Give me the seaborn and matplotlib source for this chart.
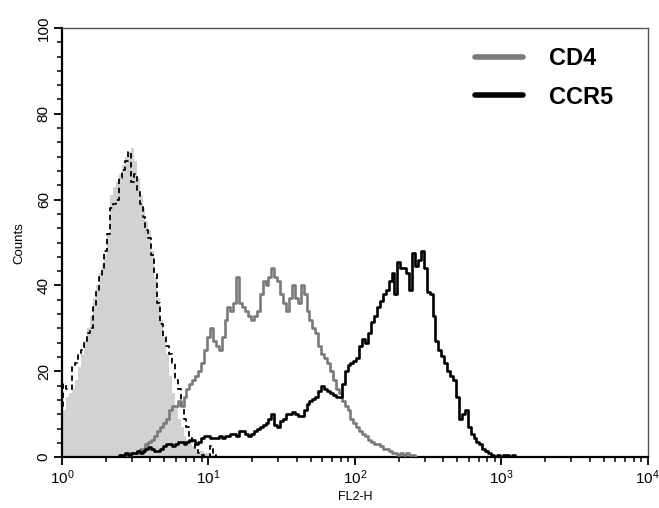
import numpy as np
import matplotlib
matplotlib.use("Agg")
import matplotlib.pyplot as plt
from matplotlib.ticker import LogLocator, AutoMinorLocator, MultipleLocator, NullFormatter
import seaborn as sns

sns.set_style("ticks", {'text.color': 'black', 'axes.labelcolor': 'black',
                        'xtick.color': 'black', 'ytick.color': 'black'})
plt.rcParams['font.family'] = ['Liberation Sans', 'DejaVu Sans']

# log10 channel step used for all histograms
step = 0.02

# isotype control (filled grey), starts at log10 = 0.00
iso_start = 0.00
iso_counts = [10, 11, 14, 15, 16, 18, 21, 24, 27, 30, 33, 37, 40, 43, 45, 47,
              52, 61, 63, 64, 66, 68, 70, 71, 72, 69, 65, 61, 58, 55, 53, 48,
              42, 37, 32, 28, 24, 19, 15, 12, 9, 7, 5, 4, 3, 2.5, 2, 1.5, 1.5,
              1, 1, 0.5, 0.5, 0]

# second control (dashed), starts at log10 = 0.00
ctl_start = 0.00
ctl_counts = [12, 17, 16, 16, 21, 22, 24, 25, 27, 29, 30, 35, 39, 42, 44, 48,
              52, 58, 59, 60, 65, 67, 69, 71, 64, 66, 62, 59, 56, 53, 51, 47,
              43, 36, 31, 28, 26, 24, 22, 18, 16, 12, 9, 7, 5, 3, 2, 1, 0.5, 0,
              0, 2.5, 0.5, 0] + [0] * 74

# CD4 (grey line), starts at log10 = 0.44
cd4_start = 0.44
cd4_counts = [0, 0.5, 1, 1, 1.5, 2, 2, 3, 3.5, 4, 5, 6, 7, 8, 9, 11, 12, 12,
              13, 12, 14, 16, 17, 18, 19, 20, 22, 25, 28, 30, 27, 26, 25, 28,
              32, 35, 34, 36, 42, 36, 35, 34, 33, 32, 33, 34, 38, 41, 40, 42,
              44, 42, 41, 38, 36, 34, 37, 40, 37, 36, 40, 38, 34, 32, 30, 29,
              26, 24, 23, 22, 20, 18, 16, 15, 13, 12, 11, 9, 8, 7, 6, 5.5, 5,
              4, 3.5, 3, 3, 2.5, 2, 2, 1.5, 1, 1, 0.5, 1, 0.5, 1, 0.5, 0.5, 0]

# CCR5 (black line), starts at log10 = 0.38
ccr5_start = 0.38
ccr5_counts = [0, 0.5, 0.5, 1, 0.5, 1, 1, 1.5, 1, 1.5, 2, 2.3, 2, 1.5, 1.5, 2,
               2.5, 3, 3, 2.5, 3, 3.5, 3.5, 3, 3.5, 4, 4, 3, 3.5, 4.5, 5, 5,
               4.5, 4.5, 4.5, 5, 4.5, 5, 5, 5.5, 5.5, 5, 6, 6, 5.5, 5, 5.5, 6,
               6.5, 7, 7.5, 8, 9, 10, 7.5, 7, 8.5, 9, 10, 10, 10.5, 10, 9.5,
               9.5, 11, 12.5, 13, 13.5, 14, 15.5, 16.5, 16, 15.5, 15, 14.5, 14,
               14, 17, 20, 21.5, 22, 22.5, 23, 26, 27.5, 26.5, 29, 31.5, 33, 35,
               36.5, 38, 39, 41, 43, 38, 45.5, 44, 44, 43, 39, 47.5, 44.5, 46,
               48, 44, 38.5, 38, 33, 27, 25, 23.5, 22, 20, 19, 18, 14, 9, 10,
               11, 7, 5.5, 4.5, 3.5, 3, 2, 1.5, 1, 0.5, 0, 0.5, 0, 0.5, 0.5, 0,
               0.5, 0]


def channels(start, counts):
    return 10 ** (start + step * np.arange(len(counts)))


fig, ax = plt.subplots(figsize=(6.59, 5.08), dpi=100)
fig.subplots_adjust(left=0.094, right=0.983, bottom=0.100, top=0.945)

x_iso = channels(iso_start, iso_counts)
ax.fill_between(x_iso, iso_counts, step='mid', color='#d2d2d2', lw=0, zorder=1)

sns.lineplot(x=channels(ctl_start, ctl_counts), y=ctl_counts, ax=ax,
             color='black', lw=1.3, linestyle=(0, (3, 2)), drawstyle='steps-mid',
             zorder=2)
sns.lineplot(x=channels(cd4_start, cd4_counts), y=cd4_counts, ax=ax,
             color='#7a7a7a', lw=1.9, drawstyle='steps-mid', label='CD4',
             zorder=3)
sns.lineplot(x=channels(ccr5_start, ccr5_counts), y=ccr5_counts, ax=ax,
             color='black', lw=1.9, drawstyle='steps-mid', label='CCR5',
             zorder=4)

ax.set_xscale('log')
ax.set_xlim(1, 1e4)
ax.set_ylim(0, 100)
ax.xaxis.set_major_locator(LogLocator(base=10, numticks=10))
ax.xaxis.set_minor_locator(LogLocator(base=10, subs=np.arange(2, 10), numticks=20))
ax.xaxis.set_minor_formatter(NullFormatter())
ax.yaxis.set_major_locator(MultipleLocator(20))
ax.yaxis.set_minor_locator(AutoMinorLocator(6))

ax.tick_params(axis='both', which='major', direction='out', length=6, width=1.3,
               color='black', labelcolor='black')
ax.tick_params(axis='both', which='minor', direction='out', length=3.5, width=1.1,
               color='black')
ax.tick_params(axis='x', which='major', labelsize=11, pad=2)
ax.tick_params(axis='y', which='major', labelsize=11, pad=2)
for lab in ax.get_yticklabels():
    lab.set_rotation(90)
    lab.set_va('center')

for side in ['left', 'bottom']:
    ax.spines[side].set_linewidth(1.6)
    ax.spines[side].set_color('black')
for side in ['top', 'right']:
    ax.spines[side].set_linewidth(1.0)
    ax.spines[side].set_color('#555555')
    ax.spines[side].set_visible(True)

ax.set_xlabel('FL2-H', fontsize=9, labelpad=3, color='black')
ax.set_ylabel('Counts', fontsize=9.5, labelpad=8, color='black')

leg = ax.legend(loc='upper right', bbox_to_anchor=(0.94, 0.955), frameon=False,
                handlelength=2.0, handletextpad=1.1, labelspacing=0.65,
                borderaxespad=0, borderpad=0,
                prop={'weight': 'bold', 'size': 17})
for t in leg.get_texts():
    t.set_color('black')
for h in leg.get_lines():
    h.set_linewidth(4)

fig.savefig('out.png', dpi=100)
